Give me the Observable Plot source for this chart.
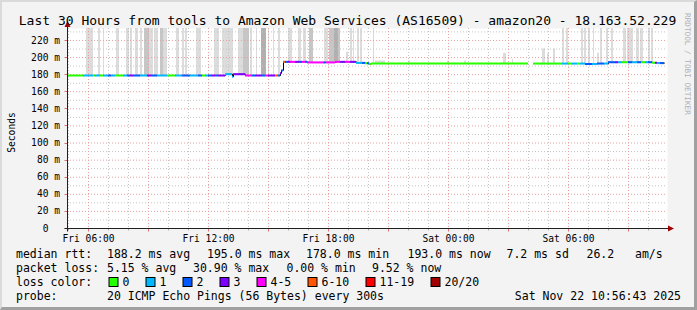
<!DOCTYPE html>
<html><head><meta charset="utf-8">
<script src="https://cdn.jsdelivr.net/npm/d3@7"></script>
<script src="https://cdn.jsdelivr.net/npm/@observablehq/plot@0.6"></script>
<style>
html,body{margin:0;padding:0;background:#f3f3f3;}
#wrap{position:relative;width:697px;height:310px;background:#f3f3f3;overflow:hidden;}
#wrap svg{position:absolute;left:0;top:0;}
.border{position:absolute;left:0;top:0;width:697px;height:310px;box-sizing:border-box;border-style:solid;border-width:2px 3px 3px 2px;border-color:#dadada #a0a0a0 #a0a0a0 #dadada;pointer-events:none;}
</style></head><body><div id="wrap"></div>
<script>
// ---------- data ----------
const titleText = "Last 30 Hours from tools to Amazon Web Services (AS16509) - amazon20 - 18.163.52.229";
const yTitle = "Seconds";
const sideText = "RRDTOOL / TOBI OETIKER";

// time in hours since Fri 00:00
const xDomain = [4.95, 34.95];
const yDomain = [0, 234];
const lastSample = 34.80;

const yTicks = [0, 20, 40, 60, 80, 100, 120, 140, 160, 180, 200, 220];
const yMinor = [10, 30, 50, 70, 90, 110, 130, 150, 170, 190, 210, 230];
const xLabelTicks = [6, 12, 18, 24, 30];
const xLabelText = ["Fri 06:00", "Fri 12:00", "Fri 18:00", "Sat 00:00", "Sat 06:00"];
const xMajor = [6, 9, 12, 15, 18, 21, 24, 27, 30, 33];
const xMinor = [5, 7, 8, 10, 11, 13, 14, 16, 17, 19, 20, 22, 23, 25, 26, 28, 29, 31, 32, 34];

// median rtt runs (start hour, median ms, lost pings of 20)
const runStart = [
  4.95, 5.75, 6.25, 6.35, 6.60, 6.75, 7.00, 7.15, 7.35, 7.75,
  7.95, 8.10, 8.25, 8.60, 8.95, 9.15, 9.45, 9.95, 10.35, 10.70,
  11.10, 11.50, 11.70, 11.85, 12.00, 12.20, 12.35, 12.50, 12.85, 13.20,
  13.25, 13.85, 14.20, 14.35, 14.70, 14.85, 15.00, 15.35, 15.50, 15.60,
  15.65, 15.75, 15.85, 16.00, 16.10, 16.35, 16.55, 16.70, 16.85, 16.95,
  17.35, 17.75, 17.90, 18.35, 18.60, 18.85, 19.10, 19.40, 19.70, 19.85,
  19.95, 20.05, 20.15, 28.00, 28.25, 29.70, 30.00, 30.20, 30.45, 30.60,
  30.85, 31.20, 31.45, 31.80, 32.00, 32.35, 32.50, 32.70, 33.00, 33.20,
  33.45, 33.65, 33.85, 34.00, 34.20, 34.35, 34.45, 34.60
];
const runMedian = [
  179, 179, 179, 179, 179, 179, 179, 179, 179, 179,
  179, 179, 179, 179, 179, 179, 179, 179, 179, 179,
  179, 179, 179, 179, 179, 179, 179, 179, 180.5, 177.5,
  180.5, 179, 179, 179, 179, 179, 179, 179, 179, 181.5,
  185, 195, 195, 195, 195, 195, 195, 195, 195, 194.3,
  194.3, 194.3, 194.3, 195, 195, 195, 195, 193.8, 193.8, 193.3,
  193.3, 192.5, 193, NaN, 193, 193, 193, 193, 193, 193,
  192.5, 192.5, 193, 193, 194.5, 194.5, 194.5, 194.5, 194.5, 194.5,
  194.5, 194.5, 194.5, 194.5, 194, 194, 193.5, 193.5
];
const runLoss = [
  0, 1, 0, 1, 0, 1, 2, 1, 0, 1,
  2, 3, 2, 1, 3, 2, 1, 0, 1, 2,
  1, 2, 0, 1, 2, 3, 2, 3, 1, 1,
  3, 5, 2, 3, 2, 5, 3, 8, 2, 3,
  2, 8, 2, 3, 5, 3, 2, 5, 2, 5,
  4, 2, 5, 4, 3, 5, 3, 1, 2, 0,
  2, 0, 0, 0, 0, 1, 0, 1, 0, 1,
  2, 1, 2, 1, 2, 3, 1, 0, 2, 1,
  2, 0, 1, 2, 0, 3, 1, 2
];

// smoke (spread of ping times): start, end, top value (ms), shade level
const smokeStart = [
  5.90, 6.50, 6.75, 7.40, 7.90, 8.10, 8.35, 8.60, 8.80, 9.05,
  9.30, 9.60, 9.75, 10.40, 10.70, 10.85, 11.40, 12.30, 12.70, 13.50,
  13.75, 14.10, 14.40, 14.65, 15.00, 15.25, 15.50, 16.00, 16.50, 16.75,
  17.05, 17.80, 18.05, 18.30, 18.50, 18.90, 19.10, 19.25, 19.45, 19.60,
  20.25, 20.35, 22.00, 23.95, 24.80, 26.75, 27.20, 28.70, 28.95, 29.25,
  29.70, 29.90, 30.65, 30.80, 31.00, 31.25, 31.45, 31.60, 31.90, 32.15,
  32.75, 32.95, 33.40, 33.60, 34.00, 34.15
];
const smokeEnd = [
  6.25, 6.60, 6.80, 7.55, 8.05, 8.20, 8.50, 8.70, 9.05, 9.25,
  9.50, 9.75, 9.95, 10.55, 10.80, 10.95, 11.65, 12.55, 13.25, 13.75,
  14.05, 14.20, 14.45, 14.90, 15.05, 15.30, 15.60, 16.20, 16.65, 16.90,
  17.25, 18.00, 18.30, 18.50, 18.60, 19.00, 19.20, 19.30, 19.55, 19.70,
  20.30, 20.85, 22.10, 24.05, 24.90, 26.90, 27.25, 28.85, 29.05, 29.35,
  29.80, 30.00, 30.75, 30.90, 31.10, 31.30, 31.55, 31.70, 32.00, 32.25,
  32.90, 33.25, 33.55, 33.75, 34.10, 34.25
];
const smokeTop = [
  234, 234, 234, 234, 234, 234, 234, 234, 234, 234,
  234, 234, 234, 234, 234, 234, 234, 234, 234, 234,
  234, 234, 234, 234, 234, 234, 234, 234, 234, 234,
  234, 234, 234, 234, 234, 206, 234, 234, 234, 234,
  234, 196, 196, 196, 196, 205, 198, 210, 205, 210,
  234, 234, 234, 234, 234, 234, 205, 234, 234, 234,
  234, 234, 234, 234, 234, 234
];
const smokeShade = [
  0, 0, 0, 0, 0, 0, 0, 0, 1, 0,
  0, 1, 0, 0, 0, 0, 0, 0, 0, 0,
  1, 0, 0, 2, 0, 0, 0, 0, 0, 0,
  1, 0, 1, 2, 1, 0, 0, 0, 0, 0,
  0, 0, 0, 0, 0, 0, 0, 0, 0, 0,
  0, 0, 0, 0, 0, 0, 0, 0, 0, 0,
  0, 0, 0, 0, 0, 0
];

const lossLabels = ["0", "1", "2", "3", "4-5", "6-10", "11-19", "20/20"];
const lossUpper  = [0, 1, 2, 3, 5, 10, 19, 20];
const lossColors = ["#26ff00", "#00b8ff", "#0059ff", "#7e00ff", "#ff00ff", "#ff5500", "#ff0000", "#a00000"];

const rttLabels  = ["median rtt:", "188.2 ms avg", "195.0 ms max", "178.0 ms min", "193.0 ms now", "7.2 ms sd", "26.2", "am/s"];
const lossStats  = ["packet loss:", "5.15 % avg", "30.90 % max", "0.00 % min", "9.52 % now"];
const lossRowLabel = "loss color:";
const probeLabels = ["probe:", "20 ICMP Echo Pings (56 Bytes) every 300s"];
const dateText = "Sat Nov 22 10:56:43 2025";

// ---------- layout / style ----------
const W = 697, H = 310;
const MONO = "'DejaVu Sans Mono', 'Liberation Mono', monospace";
const smokeFills = ["#dcdcdc", "#c6c6c6", "#b0b0b0"];
const rttX = [16, 107, 207, 306, 407.5, 506.5, 586.5, 635];
const lossX = [16, 107, 193, 286.5, 372];
const probeX = [16, 107];
const rowBase = [257.5, 271.5, 285.5, 299.5];

function lossColor(n) {
  const i = lossUpper.findIndex(u => n <= u);
  return lossColors[i < 0 ? lossColors.length - 1 : i];
}

const runs = runStart.map((s, i) => ({
  start: s,
  end: i + 1 < runStart.length ? runStart[i + 1] : lastSample,
  median: runMedian[i],
  loss: runLoss[i]
}));
const lineRuns = runs.filter(r => Number.isFinite(r.median));
const stepPts = runs.map(r => ({t: r.start, v: r.median}))
  .concat([{t: lastSample, v: runMedian[runMedian.length - 1]}]);

function medianAt(t) {
  let m = NaN;
  for (const r of runs) if (r.start <= t) m = r.median;
  return Number.isFinite(m) ? m : 193;
}
const smoke = smokeStart.map((s, i) => ({
  start: s, end: smokeEnd[i], bottom: medianAt((s + smokeEnd[i]) / 2), top: smokeTop[i], shade: smokeShade[i]
}));

function axisDecor(index, scales) {
  const x = scales.x, y = scales.y;
  const g = d3.create("svg:g");
  const x0 = Math.round(x(xDomain[0])) + 0.5;
  const xr = Math.round(x(xDomain[1]));
  const y0 = Math.round(y(0)) + 0.5;
  const yt = Math.round(y(yDomain[1]));
  for (const h of xMinor) {
    const px = Math.round(x(h)) + 0.5;
    g.append("line").attr("x1", px).attr("x2", px).attr("y1", y0).attr("y2", y0 + 2).attr("stroke", "#aaaaaa");
  }
  for (const h of xMajor) {
    const px = Math.round(x(h)) + 0.5;
    g.append("line").attr("x1", px).attr("x2", px).attr("y1", y0).attr("y2", y0 + 3).attr("stroke", "#e07070");
  }
  for (const v of yTicks) {
    const py = Math.round(y(v)) + 0.5;
    g.append("line").attr("x1", x0 - 3).attr("x2", x0).attr("y1", py).attr("y2", py).attr("stroke", "#e07070");
  }
  g.append("line").attr("x1", x0 - 3).attr("x2", xr + 1).attr("y1", y0).attr("y2", y0).attr("stroke", "#202020");
  g.append("line").attr("x1", x0).attr("x2", x0).attr("y1", y0 + 3).attr("y2", yt - 1).attr("stroke", "#202020");
  g.append("path").attr("d", `M${xr + 1},${y0 - 3}L${xr + 7},${y0}L${xr + 1},${y0 + 3}Z`).attr("fill", "#a00000");
  g.append("path").attr("d", `M${x0 - 3},${yt - 1}L${x0},${yt - 7}L${x0 + 3},${yt - 1}Z`).attr("fill", "#a00000");
  return g.node();
}

const chart = Plot.plot({
  width: W, height: H,
  marginLeft: 67, marginRight: 30, marginTop: 28, marginBottom: 82,
  x: {domain: xDomain, axis: null},
  y: {domain: yDomain, axis: null},
  color: {type: "identity"},
  style: {background: "transparent", fontFamily: MONO},
  marks: [
    Plot.frame({fill: "white", stroke: "none"}),
    Plot.rect(smoke, {x1: "start", x2: "end", y1: "bottom", y2: "top", fill: d => smokeFills[d.shade]}),
    Plot.ruleY(yMinor, {stroke: "#c4c4c4", strokeDasharray: "1,2"}),
    Plot.ruleX(xMinor, {stroke: "#c4c4c4", strokeDasharray: "1,2"}),
    Plot.ruleY(yTicks.filter(v => v > 0), {stroke: "#e8a0a0", strokeDasharray: "1,2"}),
    Plot.ruleX(xMajor, {stroke: "#e8a0a0", strokeDasharray: "1,2"}),
    Plot.line(stepPts, {x: "t", y: "v", curve: "step-after", stroke: "#000", strokeWidth: 1}),
    Plot.ruleY(lineRuns, {x1: "start", x2: "end", y: "median", stroke: d => lossColor(d.loss), strokeWidth: 2}),
    axisDecor,
    Plot.text(yTicks, {x: xDomain[0], y: d => d, text: d => d === 0 ? "0\u00a0\u00a0" : `${d} m`,
      textAnchor: "end", dx: -7.5, fontSize: 9.6, fontFamily: MONO, fill: "#000"}),
    Plot.text(xLabelTicks, {x: d => d, y: 0, text: (d, i) => xLabelText[i], dy: 10,
      fontSize: 9.6, fontFamily: MONO, fill: "#000"})
  ]
});
const wrap = document.getElementById("wrap");
wrap.appendChild(chart);

// ---------- titles and legend ----------
const ov = d3.select(wrap).append("svg").attr("width", W).attr("height", H)
  .attr("font-family", MONO).style("position", "absolute").style("left", "0px").style("top", "0px");

ov.append("text").attr("x", 347.5).attr("y", 24.5).attr("text-anchor", "middle")
  .attr("font-size", 13).attr("fill", "#000").text(titleText);
ov.append("text").attr("transform", "translate(15,132.5) rotate(-90)").attr("text-anchor", "middle")
  .attr("font-size", 9.6).attr("fill", "#000").text(yTitle);
ov.append("text").attr("transform", "translate(685,13) rotate(90)").attr("text-anchor", "start")
  .attr("font-size", 7.7).attr("fill", "#b0b0b0").text(sideText);

const FS = 11.5;
rttLabels.forEach((t, i) => ov.append("text").attr("x", rttX[i]).attr("y", rowBase[0]).attr("font-size", FS).text(t));
lossStats.forEach((t, i) => ov.append("text").attr("x", lossX[i]).attr("y", rowBase[1]).attr("font-size", FS).text(t));
ov.append("text").attr("x", 16).attr("y", rowBase[2]).attr("font-size", FS).text(lossRowLabel);
let bx = 108.5;
lossLabels.forEach((lab, i) => {
  ov.append("rect").attr("x", bx + 0.5).attr("y", 277.5).attr("width", 9).attr("height", 9)
    .attr("fill", lossColors[i]).attr("stroke", "#000").attr("stroke-width", 1);
  ov.append("text").attr("x", bx + 14).attr("y", rowBase[2]).attr("font-size", FS).text(lab);
  bx += 37 + (lab.length - 1) * 7;
});
probeLabels.forEach((t, i) => ov.append("text").attr("x", probeX[i]).attr("y", rowBase[3]).attr("font-size", FS).text(t));
ov.append("text").attr("x", 681).attr("y", rowBase[3]).attr("text-anchor", "end").attr("font-size", FS).text(dateText);

const b = document.createElement("div");
b.className = "border";
wrap.appendChild(b);
</script></body></html>
